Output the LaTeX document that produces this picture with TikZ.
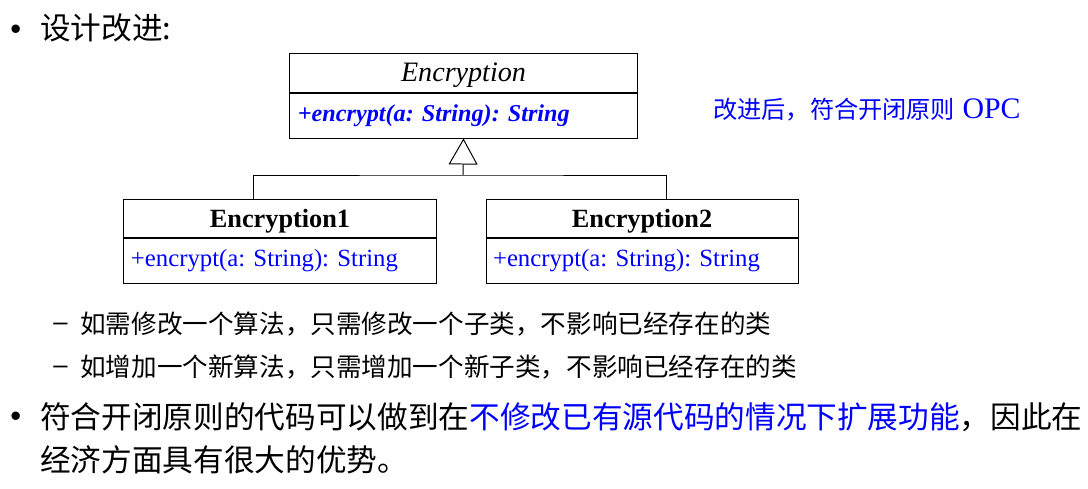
\documentclass[tikz,border=0pt]{standalone}
\usepackage{fontspec}
\setmainfont{Liberation Serif}
\newfontfamily\cjk{Noto Sans CJK SC}
\newfontfamily\symfont{Liberation Sans}
\usetikzlibrary{positioning,arrows.meta}
\frenchspacing

\begin{document}
\begin{tikzpicture}[x=0.025cm,y=-0.025cm,
	txt/.style={anchor=west, inner sep=0pt, font=\cjk\fontsize{21.8}{30.6}\selectfont},
	subtxt/.style={anchor=west, inner sep=0pt, font=\cjk\fontsize{18.2}{26}\selectfont},
	dot/.style={anchor=west, inner sep=0pt, font=\symfont\fontsize{22}{26}\selectfont},
	subdash/.style={anchor=west, inner sep=0pt, font=\symfont\fontsize{18.2}{22}\selectfont},
	head/.style={draw, line width=0.7pt, inner sep=0pt, text depth=0pt, minimum width=7.8cm, minimum height=0.95cm},
	body/.style={draw, line width=0.7pt, inner xsep=0.175cm, inner ysep=0pt, text width=7.45cm,
		minimum height=1.125cm, align=left, text=blue, font=\fontsize{17.6}{20}\selectfont},
	inherit/.style={line width=0.7pt}]
	\useasboundingbox (0,0) rectangle (1088,488);
	%% first point
	\node[dot] (b1) at (10,32) {•};
	\node[txt] (t1) at (40,28) {设计改进:};
	%% base class
	\node[head, minimum width=8.675cm, minimum height=0.975cm,
		font=\itshape\fontsize{20}{24}\selectfont] (e0) at (463.5,72.5) {Encryption};
	\node[body, below=0pt of e0, inner xsep=0.2cm, text width=8.275cm,
		font=\bfseries\itshape\fontsize{17.2}{20}\selectfont] (e0m) {+encrypt(a: String): String};
	\node[anchor=west, inner sep=0pt, text=blue, font=\fontsize{21.2}{26}\selectfont] (note)
		at (713,110) {{\cjk\fontsize{17.2}{20}\selectfont 改进后，符合开闭原则} OPC};
	%% sub classes
	\node[head, font=\bfseries\fontsize{18.7}{22}\selectfont] (e1) at (280,218) {Encryption1};
	\node[body, below=0pt of e1] (e1m) {+encrypt(a: String): String};
	\node[head, right=1.225cm of e1, font=\bfseries\fontsize{18.7}{22}\selectfont] (e2) {Encryption2};
	\node[body, below=0pt of e2] (e2m) {+encrypt(a: String): String};
	% 继承关系
	\coordinate (fork) at (463,175);
	\draw[inherit] ([xshift=-0.675cm]e1.north) |- (fork) -| ([xshift=0.6cm]e2.north);
	\draw[inherit, -{Triangle[open, length=18.5pt, width=20.6pt]}] (fork) -- (e0m.south);
	%% sub points
	\node[subdash] (d1) at (53,327) {–};
	\node[subtxt] (s1) at (80,324) {如需修改一个算法，只需修改一个子类，不影响已经存在的类};
	\node[subdash] (d2) at (53,370) {–};
	\node[subtxt] (s2) at (80,367) {如增加一个新算法，只需增加一个新子类，不影响已经存在的类};
	%% second point
	\node[dot] (b2) at (10,419) {•};
	\node[txt, align=left] (t2) at (40,438.5) {符合开闭原则的代码可以做到在\textcolor{blue}{不修改已有源代码的情况下扩展功能}，因此在\\经济方面具有很大的优势。};
\end{tikzpicture}
\end{document}
